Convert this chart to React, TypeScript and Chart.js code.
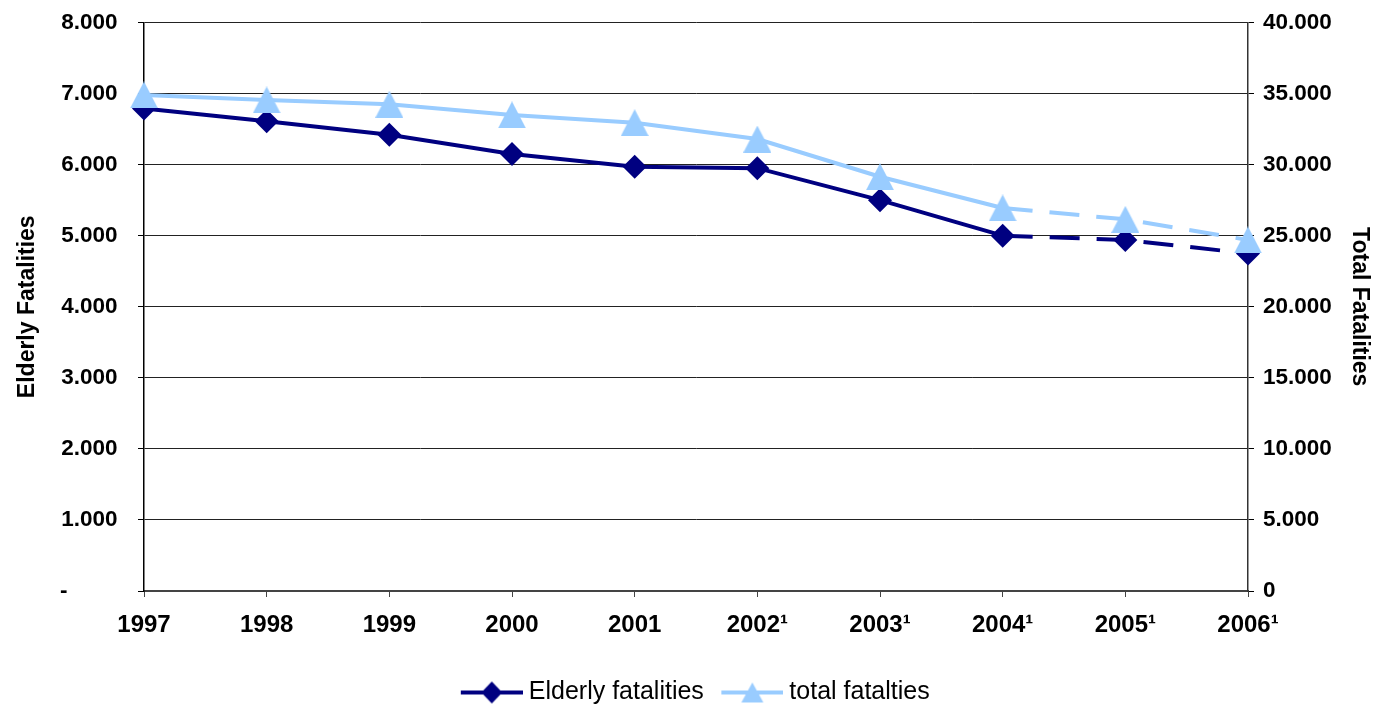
import React, { useEffect, useRef } from "react";
import { Chart, registerables } from "chart.js";

Chart.register(...registerables);

const years = ["1997", "1998", "1999", "2000", "2001", "2002¹", "2003¹", "2004¹", "2005¹", "2006¹"];
const elderlyFatalities = [6790, 6610, 6420, 6150, 5970, 5950, 5500, 5000, 4940, 4750];
const totalFatalities = [34900, 34550, 34250, 33500, 32950, 31800, 29150, 26950, 26150, 24700];
const leftTicks = [0, 1000, 2000, 3000, 4000, 5000, 6000, 7000, 8000];
const rightTicks = [0, 5000, 10000, 15000, 20000, 25000, 30000, 35000, 40000];

const DARK = "#000080";
const LIGHT = "#99CCFF";
const FONT = "Arial, 'Liberation Sans', sans-serif";

function fmt(v: number): string {
  return String(Math.round(v)).replace(/\B(?=(\d{3})+(?!\d))/g, ".");
}

function triangleImage(color: string, w: number, h: number): HTMLCanvasElement {
  const c = document.createElement("canvas");
  c.width = w;
  c.height = h;
  const ctx = c.getContext("2d")!;
  ctx.fillStyle = color;
  ctx.beginPath();
  ctx.moveTo(w / 2, 0);
  ctx.lineTo(w, h);
  ctx.lineTo(0, h);
  ctx.closePath();
  ctx.fill();
  return c;
}

const LEG_GAP = 24;
const LEG_LINE = 62;
const LEG_BOX = LEG_GAP + LEG_LINE - 13;

function legendImage(kind: "diamond" | "triangle", color: string): HTMLCanvasElement {
  const c = document.createElement("canvas");
  c.width = LEG_LINE + LEG_GAP;
  c.height = 26;
  const ctx = c.getContext("2d")!;
  ctx.strokeStyle = color;
  ctx.lineWidth = 4;
  ctx.beginPath();
  ctx.moveTo(LEG_GAP, 13);
  ctx.lineTo(LEG_GAP + LEG_LINE, 13);
  ctx.stroke();
  ctx.fillStyle = color;
  const cx = LEG_GAP + LEG_LINE / 2;
  ctx.beginPath();
  if (kind === "diamond") {
    ctx.moveTo(cx, 2);
    ctx.lineTo(cx + 10.5, 13);
    ctx.lineTo(cx, 24);
    ctx.lineTo(cx - 10.5, 13);
  } else {
    ctx.moveTo(cx, 3);
    ctx.lineTo(cx + 11, 23);
    ctx.lineTo(cx - 11, 23);
  }
  ctx.closePath();
  ctx.fill();
  return c;
}

export default function App() {
  const ref = useRef<HTMLCanvasElement | null>(null);

  useEffect(() => {
    document.body.style.margin = "0";
    const canvas = ref.current!;
    const dashAfter = 7;
    const tri = triangleImage(LIGHT, 28, 27);
    const chart = new Chart(canvas, {
      type: "line",
      data: {
        labels: years,
        datasets: [
          {
            label: "Elderly fatalities",
            data: elderlyFatalities,
            yAxisID: "y",
            borderColor: DARK,
            backgroundColor: DARK,
            borderWidth: 4,
            pointStyle: "rectRot",
            pointRadius: 12,
            pointBorderWidth: 0,
            pointBackgroundColor: DARK,
            tension: 0,
            order: 1,
            segment: {
              borderDash: (ctx: any) => (ctx.p0DataIndex >= dashAfter ? [30, 17] : undefined),
            },
          },
          {
            label: "total fatalties",
            data: totalFatalities,
            yAxisID: "y1",
            borderColor: LIGHT,
            backgroundColor: LIGHT,
            borderWidth: 4,
            pointStyle: tri,
            pointRadius: 14,
            pointBorderWidth: 0,
            pointBackgroundColor: LIGHT,
            tension: 0,
            order: 0,
            segment: {
              borderDash: (ctx: any) => (ctx.p0DataIndex >= dashAfter ? [30, 17] : undefined),
            },
          },
        ],
      },
      options: {
        responsive: true,
        maintainAspectRatio: false,
        animation: false,
        layout: { padding: { top: 0, left: 0, right: 0, bottom: -7 } },
        plugins: {
          tooltip: { enabled: false },
          legend: {
            position: "bottom",
            labels: {
              usePointStyle: true,
              pointStyleWidth: LEG_BOX,
              padding: 0,
              color: "#000",
              font: { family: FONT, size: 25 },
              generateLabels: () => [
                {
                  text: "Elderly fatalities",
                  pointStyle: legendImage("diamond", DARK),
                  fillStyle: DARK,
                  strokeStyle: DARK,
                  lineWidth: 0,
                  hidden: false,
                  datasetIndex: 0,
                  fontColor: "#000",
                } as any,
                {
                  text: "total fatalties",
                  pointStyle: legendImage("triangle", LIGHT),
                  fillStyle: LIGHT,
                  strokeStyle: LIGHT,
                  lineWidth: 0,
                  hidden: false,
                  datasetIndex: 1,
                  fontColor: "#000",
                } as any,
              ],
            },
          },
        },
        scales: {
          x: {
            offset: false,
            grid: {
              drawOnChartArea: false,
              drawTicks: true,
              tickLength: 6,
              tickColor: "#444",
              offset: false,
            },
            border: { color: "#444", width: 2 },
            ticks: {
              color: "#000",
              padding: 14,
              maxRotation: 0,
              autoSkip: false,
              font: { family: FONT, size: 24, weight: "bold" },
            },
            afterFit: (s: any) => {
              s.height = 89;
            },
          },
          y: {
            position: "left",
            min: 0,
            max: 8000,
            afterBuildTicks: (s: any) => {
              s.ticks = leftTicks.map((v) => ({ value: v }));
            },
            grid: {
              color: "#222",
              lineWidth: 1,
              tickLength: 6,
              tickColor: "#000",
            },
            border: { color: "#000", width: 1.5 },
            ticks: {
              color: "#000",
              padding: 8,
              font: { family: FONT, size: 22.5, weight: "bold" },
              callback: (v: any) => (Number(v) === 0 ? "-" + " ".repeat(10) : fmt(Number(v)) + "  "),
            },
            title: {
              display: true,
              text: "Elderly Fatalities",
              color: "#000",
              padding: { top: 14, bottom: 0 },
              font: { family: FONT, size: 23, weight: "bold" },
            },
            afterFit: (s: any) => {
              s.width = 144;
            },
          },
          y1: {
            position: "right",
            min: 0,
            max: 40000,
            afterBuildTicks: (s: any) => {
              s.ticks = rightTicks.map((v) => ({ value: v }));
            },
            grid: {
              drawOnChartArea: false,
              tickLength: 6,
              tickColor: "#000",
            },
            border: { color: "#333", width: 1.5 },
            ticks: {
              color: "#000",
              padding: 9,
              font: { family: FONT, size: 22.5, weight: "bold" },
              callback: (v: any) => (Number(v) === 0 ? "0" : fmt(Number(v))),
            },
            title: {
              display: true,
              text: "Total Fatalities",
              color: "#000",
              padding: { top: 0, bottom: 0 },
              font: { family: FONT, size: 23, weight: "bold" },
            },
            afterFit: (s: any) => {
              s.width = 125;
            },
          },
        },
      } as any,
    });
    return () => chart.destroy();
  }, []);

  return (
    <div style={{ width: 1373, height: 708, position: "relative", background: "#fff" }}>
      <canvas ref={ref} />
    </div>
  );
}
